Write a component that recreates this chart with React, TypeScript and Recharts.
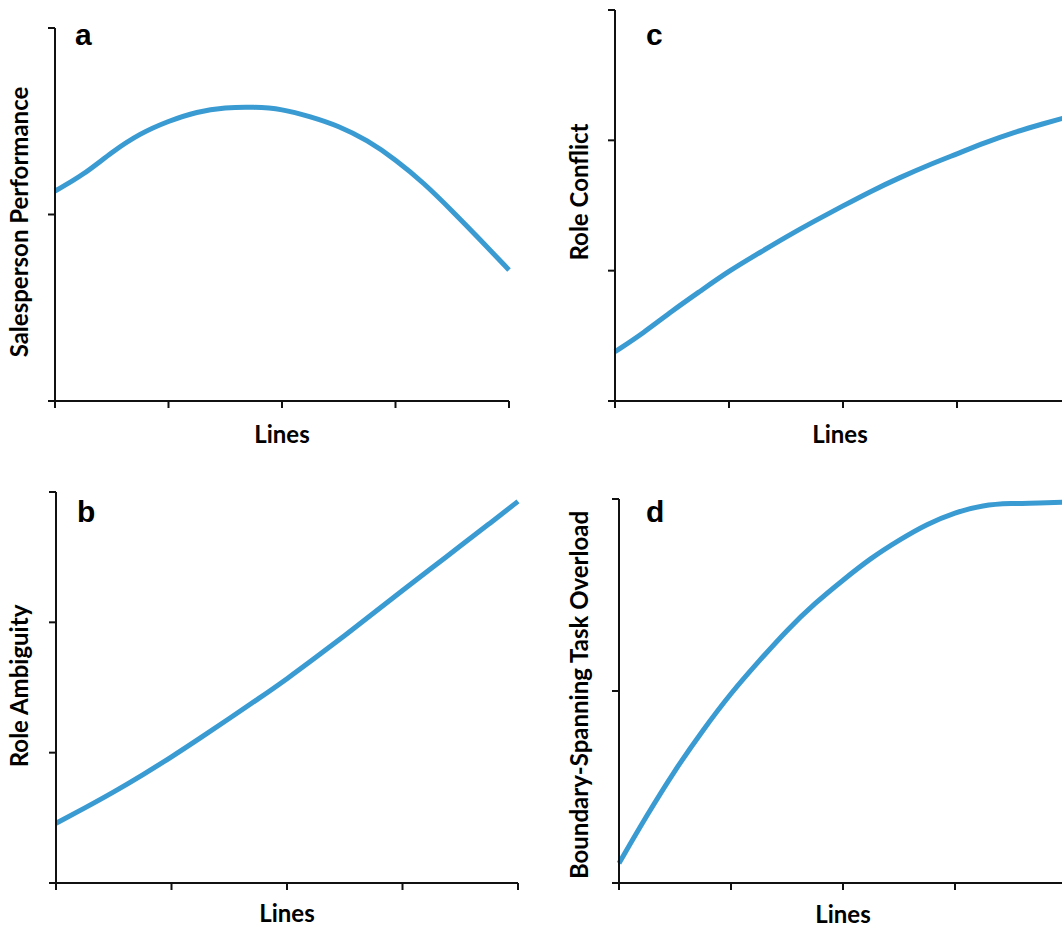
import React from "react";
import { LineChart, Line, XAxis, YAxis, Customized } from "recharts";

// x positions along "Lines" (axis ticks 0..4)
const linesX = [0, 0.25, 0.5, 0.75, 1, 1.25, 1.5, 1.75, 2, 2.25, 2.5, 2.75, 3, 3.25, 3.5, 3.75, 4];
const xTicks = [0, 1, 2, 3, 4];

// a: Salesperson Performance (y ticks 0..2)
const performanceValues = [1.126, 1.212, 1.335, 1.435, 1.501, 1.552, 1.574, 1.577, 1.566, 1.525, 1.475, 1.399, 1.295, 1.169, 1.019, 0.863, 0.702];
const performanceTicks = [0, 1, 2];

// c: Role Conflict (y ticks 0..3)
const conflictValues = [0.378, 0.522, 0.691, 0.844, 0.998, 1.128, 1.259, 1.381, 1.497, 1.612, 1.715, 1.811, 1.896, 1.984, 2.061, 2.126, 2.187];
const conflictTicks = [0, 1, 2, 3];

// b: Role Ambiguity (y ticks 0..3)
const ambiguityValues = [0.458, 0.576, 0.698, 0.829, 0.967, 1.113, 1.262, 1.412, 1.566, 1.731, 1.899, 2.072, 2.245, 2.414, 2.586, 2.755, 2.928];
const ambiguityTicks = [0, 1, 2, 3];

// d: Boundary-Spanning Task Overload (y ticks 0..2)
const overloadValues = [0.103, 0.354, 0.589, 0.797, 0.99, 1.156, 1.318, 1.458, 1.578, 1.693, 1.786, 1.87, 1.93, 1.969, 1.977, 1.979, 1.984];
const overloadTicks = [0, 1, 2];

const LINE_COLOR = "#3A9BD2";
const LABEL_FONT = "Lato, 'Open Sans', sans-serif";

type PanelProps = {
  letter: string;
  yLabel: string;
  values: number[];
  yTicks: number[];
  left: number;
  top: number;
  width: number;
  height: number;
  margin: { top: number; right: number; bottom: number; left: number };
  yAxisWidth: number;
  xAxisHeight: number;
  yLabelPos: [number, number];
  xLabelPos: [number, number];
  letterPos: [number, number];
};

const emptyTick = () => <g />;

function Panel(p: PanelProps) {
  const data = linesX.map((x, i) => ({ x, y: p.values[i] }));
  const yMax = p.yTicks[p.yTicks.length - 1];
  return (
    <div style={{ position: "absolute", left: p.left, top: p.top, width: p.width, height: p.height }}>
      <LineChart width={p.width} height={p.height} data={data} margin={p.margin}>
        <XAxis
          dataKey="x"
          type="number"
          domain={[0, 4]}
          ticks={xTicks}
          tick={emptyTick}
          tickSize={7}
          height={p.xAxisHeight}
          axisLine={{ stroke: "#111", strokeWidth: 2 }}
          tickLine={{ stroke: "#111", strokeWidth: 2 }}
          label={() => (
            <text
              x={p.xLabelPos[0]}
              y={p.xLabelPos[1]}
              textAnchor="middle"
              fontFamily={LABEL_FONT}
              fontWeight={700}
              fontSize={24}
              fill="#000"
            >
              Lines
            </text>
          )}
        />
        <YAxis
          type="number"
          domain={[0, yMax]}
          ticks={p.yTicks}
          tick={emptyTick}
          tickSize={7}
          width={p.yAxisWidth}
          axisLine={{ stroke: "#111", strokeWidth: 2 }}
          tickLine={{ stroke: "#111", strokeWidth: 2 }}
          label={() => (
            <text
              x={p.yLabelPos[0]}
              y={p.yLabelPos[1]}
              transform={`rotate(-90 ${p.yLabelPos[0]} ${p.yLabelPos[1]})`}
              textAnchor="middle"
              fontFamily={LABEL_FONT}
              fontWeight={700}
              fontSize={24}
              fill="#000"
            >
              {p.yLabel}
            </text>
          )}
        />
        <Line
          type="basis"
          dataKey="y"
          stroke={LINE_COLOR}
          strokeWidth={5}
          dot={false}
          activeDot={false}
          isAnimationActive={false}
        />
        <Customized
          component={() => (
            <text
              x={p.letterPos[0]}
              y={p.letterPos[1]}
              fontFamily="'Liberation Sans', Arial, sans-serif"
              fontWeight={700}
              fontSize={30}
              fill="#000"
            >
              {p.letter}
            </text>
          )}
        />
      </LineChart>
    </div>
  );
}

export default function App() {
  return (
    <div
      style={{
        position: "absolute",
        left: 0,
        top: 0,
        width: 1062,
        height: 929,
        overflow: "hidden",
        background: "#fff",
      }}
    >
      <Panel
        letter="a"
        yLabel="Salesperson Performance"
        values={performanceValues}
        yTicks={performanceTicks}
        left={0}
        top={0}
        width={540}
        height={460}
        margin={{ top: 28, right: 31, bottom: 9, left: 0 }}
        yAxisWidth={55}
        xAxisHeight={50}
        yLabelPos={[28, 222]}
        xLabelPos={[282, 443]}
        letterPos={[75, 45]}
      />
      <Panel
        letter="c"
        yLabel="Role Conflict"
        values={conflictValues}
        yTicks={conflictTicks}
        left={560}
        top={0}
        width={560}
        height={460}
        margin={{ top: 10, right: 49, bottom: 9, left: 0 }}
        yAxisWidth={55}
        xAxisHeight={50}
        yLabelPos={[28, 192]}
        xLabelPos={[280, 443]}
        letterPos={[86, 45]}
      />
      <Panel
        letter="b"
        yLabel="Role Ambiguity"
        values={ambiguityValues}
        yTicks={ambiguityTicks}
        left={0}
        top={470}
        width={540}
        height={470}
        margin={{ top: 22, right: 22, bottom: 7, left: 0 }}
        yAxisWidth={56}
        xAxisHeight={50}
        yLabelPos={[28, 216]}
        xLabelPos={[287, 452]}
        letterPos={[77, 52]}
      />
      <Panel
        letter="d"
        yLabel="Boundary-Spanning Task Overload"
        values={overloadValues}
        yTicks={overloadTicks}
        left={560}
        top={470}
        width={560}
        height={470}
        margin={{ top: 29, right: 53, bottom: 7, left: 0 }}
        yAxisWidth={59}
        xAxisHeight={50}
        yLabelPos={[28, 225]}
        xLabelPos={[283, 453]}
        letterPos={[86, 52]}
      />
    </div>
  );
}
